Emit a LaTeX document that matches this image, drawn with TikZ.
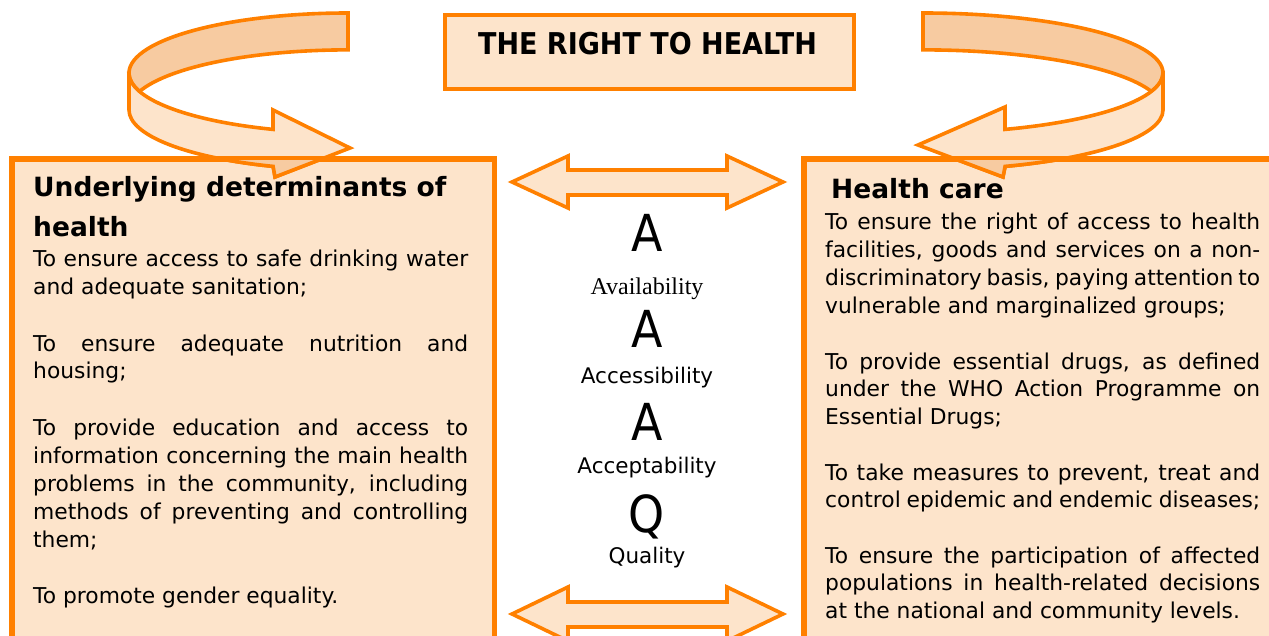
\documentclass[tikz,border=0pt]{standalone}
\usepackage{fontspec}
\setmainfont{DejaVu Sans}
\newfontfamily\narrowfont{DejaVu Sans}[FakeStretch=0.9]
\newfontfamily\availfont{Liberation Serif}
\definecolor{rthorange}{RGB}{255,128,0}
\definecolor{rthlight}{RGB}{253,228,203}
\definecolor{rthtan}{RGB}{247,203,161}
% a justified line of a paragraph
\newcommand\fullline[1]{\makebox[435pt][s]{#1}}
% outlines of the two curled arrows
\newcommand\leftbackpath{(348,-13) arc[start angle=90, end angle=197.9, x radius=219pt, y radius=60pt]
  arc[start angle=162.1, end angle=90, x radius=219pt, y radius=60pt] -- cycle}
\newcommand\leftfrontpath{(129,-73) -- (129,-110)
  arc[start angle=180, end angle=250, x radius=219pt, y radius=60pt]
  -- (275,-177) -- (350,-148) -- (273,-110) -- (273,-129.4)
  arc[start angle=250, end angle=180, x radius=219pt, y radius=60pt] -- cycle}
\newcommand\rightbackpath{(923,-13) arc[start angle=90, end angle=-17.9, x radius=240pt, y radius=60pt]
  arc[start angle=17.9, end angle=90, x radius=240pt, y radius=60pt] -- cycle}
\newcommand\rightfrontpath{(1163,-73) -- (1163,-110)
  arc[start angle=0, end angle=-70, x radius=240pt, y radius=60pt]
  -- (1003,-177) -- (918,-145) -- (1005,-107) -- (1005,-129.4)
  arc[start angle=-70, end angle=0, x radius=240pt, y radius=60pt] -- cycle}
\begin{document}
\begin{tikzpicture}[x=1pt,y=1pt,
  outline/.style={draw=rthorange, line width=3.6pt, line join=miter},
  panel/.style={outline, fill=rthlight, anchor=north west, inner sep=0pt},
  para/.style={anchor=base west, inner sep=0pt, font=\fontsize{21.8}{28}\selectfont},
  parar/.style={anchor=base west, inner sep=0pt, font=\fontsize{21.8}{27.7}\selectfont},
  heading/.style={anchor=base west, inner sep=0pt, font=\fontsize{26.5}{40}\selectfont\bfseries},
  bigletter/.style={anchor=base, inner sep=0pt, font=\narrowfont\fontsize{51}{51}\selectfont},
  aaaq/.style={anchor=base, inner sep=0pt, font=\fontsize{21.5}{24}\selectfont}]
\useasboundingbox (0,0) rectangle (1269,-636);
\clip (0,0) rectangle (1269,-636);

% title
\node[panel, minimum width=409pt, minimum height=74pt] (title) at (443,-13) {};
\node[anchor=base, inner sep=0pt, font=\narrowfont\fontsize{30}{30}\selectfont\bfseries] (titletext) at (647.5,-55) {THE RIGHT TO HEALTH};

% the two panels
\node[panel, minimum width=481pt, minimum height=600pt] (lbox) at (11,-158) {};
\node[panel, minimum width=500pt, minimum height=600pt] (rbox) at (803,-158) {};

% curled arrow on the left
\filldraw[outline, fill=rthtan] \leftbackpath;
\filldraw[outline, fill=rthlight] \leftfrontpath;
\begin{scope}
  \clip (lbox.north west) rectangle (lbox.south east);
  \filldraw[outline, fill=rthtan] \leftfrontpath;
\end{scope}
\draw[outline] (lbox.south west) rectangle (lbox.north east);

% curled arrow on the right
\filldraw[outline, fill=rthtan] \rightbackpath;
\filldraw[outline, fill=rthlight] \rightfrontpath;
\begin{scope}
  \clip (rbox.north west) rectangle (rbox.south east);
  \filldraw[outline, fill=rthtan] \rightfrontpath;
\end{scope}
\draw[outline] (rbox.south west) rectangle (rbox.north east);

% double arrows between the panels
\filldraw[outline, fill=rthlight] (512,-182) -- (568,-156) -- (568,-170) -- (727,-170) -- (727,-156)
  -- (783,-182) -- (727,-208) -- (727,-195) -- (568,-195) -- (568,-208) -- cycle;
\filldraw[outline, fill=rthlight] (512,-614) -- (568,-587) -- (568,-602) -- (727,-602) -- (727,-587)
  -- (783,-614) -- (727,-641) -- (727,-627) -- (568,-627) -- (568,-641) -- cycle;

% left panel text
\node[heading] (lhead) at (33,-197) {\parbox[t]{450pt}{Underlying determinants of\\health}};
\node[para] (l1) at (33,-267) {\parbox[t]{435pt}{\fullline{To ensure access to safe drinking water}\\and adequate sanitation;}};
\node[para] (l2) at (33,-351) {\parbox[t]{435pt}{\fullline{To ensure adequate nutrition and}\\housing;}};
\node[para] (l3) at (33,-435) {\parbox[t]{435pt}{\fullline{To provide education and access to}\\
  \fullline{information concerning the main health}\\
  \fullline{problems in the community, including}\\
  \fullline{methods of preventing and controlling}\\them;}};
\node[para] (l4) at (33,-603) {To promote gender equality.};

% right panel text
\node[heading] (rhead) at (831,-199) {Health care};
\node[parar] (r1) at (825,-230) {\parbox[t]{435pt}{\fullline{To ensure the right of access to health}\\
  \fullline{facilities, goods and services on a non-}\\
  \fullline{discriminatory basis, paying attention to}\\
  vulnerable and marginalized groups;}};
\node[parar] (r2) at (825,-369) {\parbox[t]{435pt}{\fullline{To provide essential drugs, as defined}\\
  \fullline{under the WHO Action Programme on}\\Essential Drugs;}};
\node[parar] (r3) at (825,-480) {\parbox[t]{435pt}{\fullline{To take measures to prevent, treat and}\\
  control epidemic and endemic diseases;}};
\node[parar] (r4) at (825,-563) {\parbox[t]{435pt}{\fullline{To ensure the participation of affected}\\
  \fullline{populations in health-related decisions}\\at the national and community levels.}};

% the AAAQ column
\node[bigletter] (a1) at (647,-252) {A};
\node[anchor=base, inner sep=0pt, font=\availfont\fontsize{24}{26}\selectfont] (avail) at (647,-295) {Availability};
\node[bigletter] (a2) at (647,-348) {A};
\node[aaaq] (access) at (647,-383) {Accessibility};
\node[bigletter] (a3) at (647,-440) {A};
\node[aaaq] (accept) at (647,-473) {Acceptability};
\node[bigletter] (q) at (647,-532) {Q};
\node[aaaq] (quality) at (647,-563) {Quality};
\end{tikzpicture}
\end{document}
